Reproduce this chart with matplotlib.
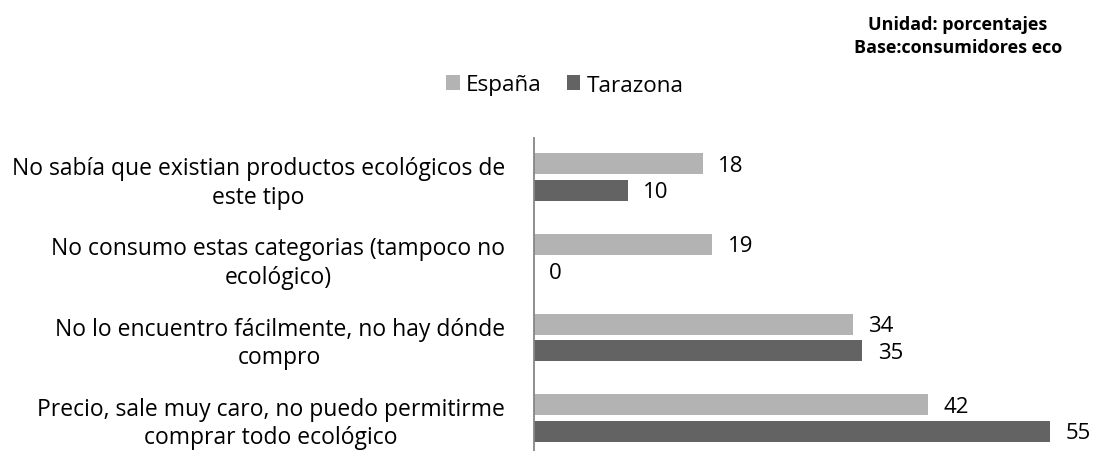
import matplotlib.pyplot as plt
import numpy as np

categorias = [
    "No sabía que existian productos ecológicos de\neste tipo",
    "No consumo estas categorias (tampoco no\necológico)",
    "No lo encuentro fácilmente, no hay dónde\ncompro",
    "Precio, sale muy caro, no puedo permitirme\ncomprar todo ecológico",
]
espana = [18, 19, 34, 42]
tarazona = [10, 0, 35, 55]
series = ["España", "Tarazona"]
colores = ["#B3B3B3", "#636363"]

plt.rcParams["font.family"] = ["Open Sans", "DejaVu Sans"]

fig = plt.figure(figsize=(10.94, 4.52), dpi=100)
ax = fig.add_axes([534 / 1094, 0, 563 / 1094, 313 / 452])

y = np.arange(len(categorias))
h = 0.26
off = 0.165
b1 = ax.barh(y - off, espana, height=h, color=colores[0], label=series[0])
b2 = ax.barh(y + off, tarazona, height=h, color=colores[1], label=series[1])

for bars, vals in [(b1, espana), (b2, tarazona)]:
    for b, v in zip(bars, vals):
        ax.annotate(str(v), (v, b.get_y() + b.get_height() / 2), xytext=(11, -1),
                    textcoords="offset points", ha="left", va="center", fontsize=16, color="#000000")

ax.set_xlim(0, 60)
ax.set_ylim(3 + 33 / 80, -39 / 80)
ax.set_yticks(y)
ax.set_yticklabels(categorias, fontsize=16.5, multialignment="center", linespacing=1.25)
ax.tick_params(axis="y", length=0, pad=21)
ax.set_xticks([])
for s in ["top", "right", "bottom"]:
    ax.spines[s].set_visible(False)
ax.spines["left"].set_color("#868686")
ax.spines["left"].set_linewidth(1.3)

fig.legend(handles=[b1, b2], labels=series, loc="center", bbox_to_anchor=(565 / 1094, 1 - 86 / 452),
           ncol=2, frameon=False, fontsize=16.2, handlelength=0.6, handleheight=0.6,
           handletextpad=0.3, columnspacing=1.1, borderpad=0)

fig.text(958 / 1094, 1 - 25 / 452, "Unidad: porcentajes", ha="center", va="center",
         fontsize=13, fontweight="bold")
fig.text(958 / 1094, 1 - 48 / 452, "Base:consumidores eco", ha="center", va="center",
         fontsize=13, fontweight="bold")

fig.savefig("out.png", dpi=100)
